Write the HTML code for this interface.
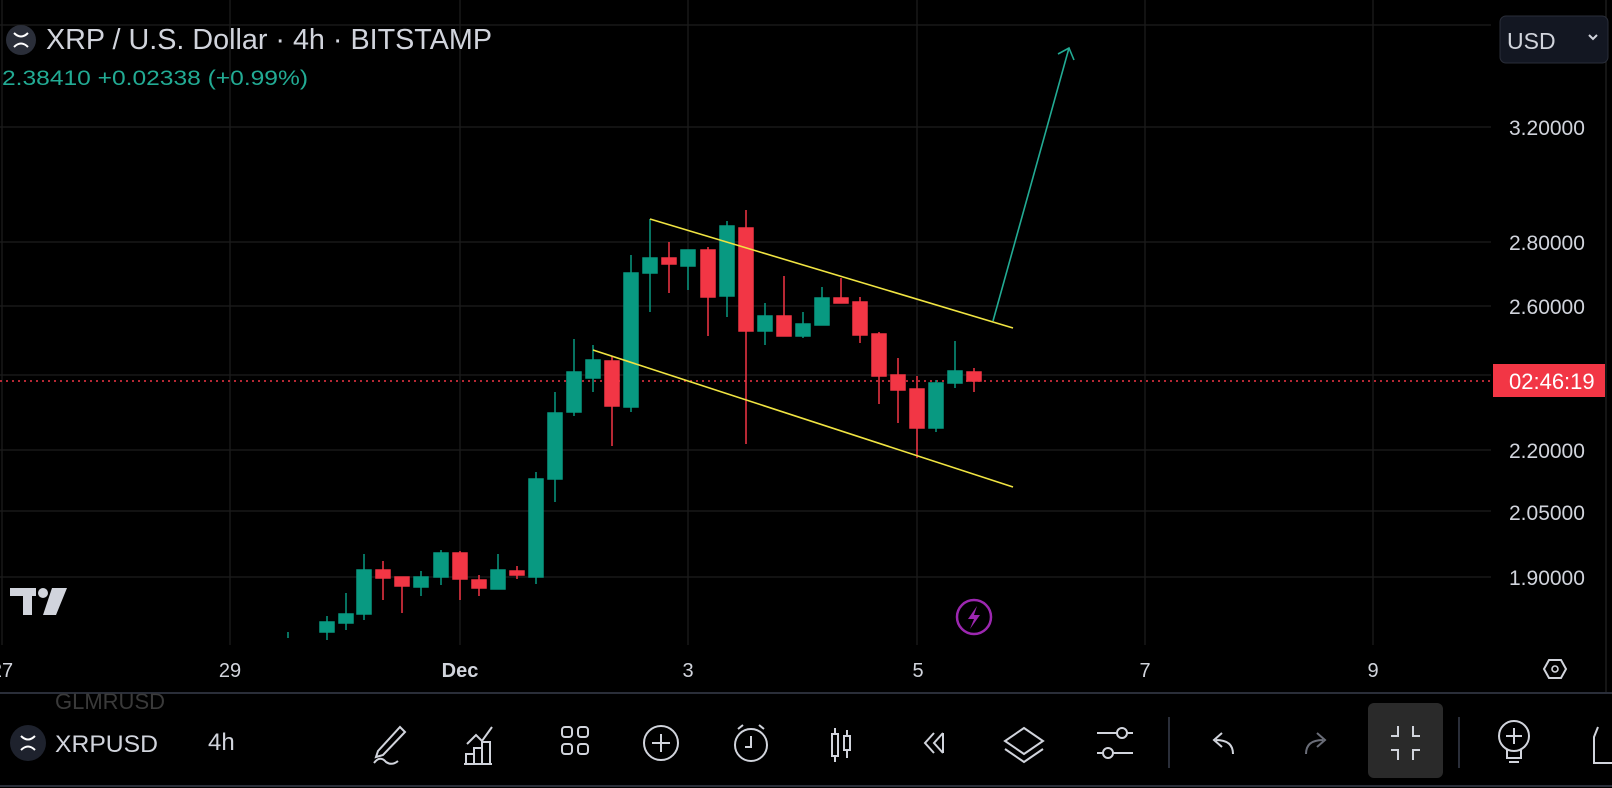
<!DOCTYPE html>
<html><head><meta charset="utf-8"><style>
html,body{margin:0;padding:0;background:#000;}
body{width:1612px;height:788px;overflow:hidden;position:relative;font-family:"Liberation Sans",sans-serif;}
svg{position:absolute;left:0;top:0;}
</style></head><body>
<svg width="1612" height="788" viewBox="0 0 1612 788">
<rect width="1612" height="788" fill="#000"/>
<!-- grid -->
<g stroke="#1c1c1c" stroke-width="1.3">
<line x1="0" y1="25" x2="1491" y2="25"/>
<line x1="0" y1="127" x2="1491" y2="127"/>
<line x1="0" y1="242" x2="1491" y2="242"/>
<line x1="0" y1="306" x2="1491" y2="306"/>
<line x1="0" y1="375" x2="1491" y2="375"/>
<line x1="0" y1="450" x2="1491" y2="450"/>
<line x1="0" y1="511" x2="1491" y2="511"/>
<line x1="0" y1="577" x2="1491" y2="577"/>
<line x1="2" y1="0" x2="2" y2="645"/>
<line x1="230" y1="0" x2="230" y2="645"/>
<line x1="460" y1="0" x2="460" y2="645"/>
<line x1="688" y1="0" x2="688" y2="645"/>
<line x1="917" y1="0" x2="917" y2="645"/>
<line x1="1145" y1="0" x2="1145" y2="645"/>
<line x1="1373" y1="0" x2="1373" y2="645"/>
</g>
<line x1="1606" y1="0" x2="1606" y2="693" stroke="#2a2a2a" stroke-width="1"/>
<!-- current price line -->
<line x1="0" y1="381" x2="1493" y2="381" stroke="#f23645" stroke-width="1.5" stroke-dasharray="2,4"/>
<!-- candles -->
<g id="c"></g>
<g stroke-width="1.5">
<!-- green -->
<g fill="#089981" stroke="#089981">
<line x1="288" y1="632" x2="288" y2="638"/>
<line x1="327" y1="616" x2="327" y2="640"/><rect x="320" y="622" width="14" height="10"/>
<line x1="346" y1="593" x2="346" y2="630"/><rect x="339" y="614" width="14" height="9"/>
<line x1="364" y1="554" x2="364" y2="620"/><rect x="357" y="570" width="14" height="44"/>
<line x1="421" y1="571" x2="421" y2="596"/><rect x="414" y="577" width="14" height="10"/>
<line x1="441" y1="550" x2="441" y2="585"/><rect x="434" y="553" width="14" height="24"/>
<line x1="498" y1="554" x2="498" y2="589"/><rect x="491" y="570" width="14" height="19"/>
<line x1="536" y1="472" x2="536" y2="584"/><rect x="529" y="479" width="14" height="98"/>
<line x1="555" y1="392" x2="555" y2="502"/><rect x="548" y="413" width="14" height="66"/>
<line x1="574" y1="339" x2="574" y2="416"/><rect x="567" y="372" width="14" height="40"/>
<line x1="593" y1="345" x2="593" y2="392"/><rect x="586" y="360" width="14" height="18"/>
<line x1="631" y1="255" x2="631" y2="412"/><rect x="624" y="273" width="14" height="134"/>
<line x1="650" y1="219" x2="650" y2="312"/><rect x="643" y="258" width="14" height="15"/>
<line x1="688" y1="250" x2="688" y2="290"/><rect x="681" y="250" width="14" height="16"/>
<line x1="727" y1="221" x2="727" y2="317"/><rect x="720" y="226" width="14" height="70"/>
<line x1="765" y1="303" x2="765" y2="345"/><rect x="758" y="316" width="14" height="15"/>
<line x1="803" y1="312" x2="803" y2="338"/><rect x="796" y="324" width="14" height="12"/>
<line x1="822" y1="287" x2="822" y2="325"/><rect x="815" y="298" width="14" height="27"/>
<line x1="936" y1="380" x2="936" y2="432"/><rect x="929" y="383" width="14" height="45"/>
<line x1="955" y1="341" x2="955" y2="388"/><rect x="948" y="371" width="14" height="12"/>
</g>
<g fill="#f23645" stroke="#f23645">
<line x1="383" y1="561" x2="383" y2="600"/><rect x="376" y="570" width="14" height="8"/>
<line x1="402" y1="577" x2="402" y2="613"/><rect x="395" y="577" width="14" height="9"/>
<line x1="460" y1="551" x2="460" y2="600"/><rect x="453" y="553" width="14" height="26"/>
<line x1="479" y1="575" x2="479" y2="596"/><rect x="472" y="580" width="14" height="8"/>
<line x1="517" y1="566" x2="517" y2="579"/><rect x="510" y="571" width="14" height="4"/>
<line x1="612" y1="356" x2="612" y2="446"/><rect x="605" y="361" width="14" height="45"/>
<line x1="669" y1="242" x2="669" y2="293"/><rect x="662" y="258" width="14" height="6"/>
<line x1="708" y1="247" x2="708" y2="336"/><rect x="701" y="250" width="14" height="47"/>
<line x1="746" y1="210" x2="746" y2="444"/><rect x="739" y="228" width="14" height="103"/>
<line x1="784" y1="276" x2="784" y2="336"/><rect x="777" y="316" width="14" height="20"/>
<line x1="841" y1="278" x2="841" y2="303"/><rect x="834" y="298" width="14" height="5"/>
<line x1="860" y1="297" x2="860" y2="343"/><rect x="853" y="302" width="14" height="33"/>
<line x1="879" y1="332" x2="879" y2="404"/><rect x="872" y="334" width="14" height="42"/>
<line x1="898" y1="358" x2="898" y2="423"/><rect x="891" y="375" width="14" height="15"/>
<line x1="917" y1="376" x2="917" y2="458"/><rect x="910" y="389" width="14" height="39"/>
<line x1="974" y1="368" x2="974" y2="392"/><rect x="967" y="372" width="14" height="9"/>
</g>
</g>
<!-- trend lines -->
<line x1="650" y1="219" x2="1013" y2="328" stroke="#f0e442" stroke-width="1.6"/>
<line x1="593" y1="350" x2="1013" y2="487" stroke="#f0e442" stroke-width="1.6"/>
<line x1="993" y1="321" x2="1069" y2="48" stroke="#22ab94" stroke-width="1.6"/>
<polyline points="1058,54 1069,48 1074,60" fill="none" stroke="#22ab94" stroke-width="1.6"/>
<!-- header -->
<circle cx="21" cy="40" r="15" fill="#2a2e39"/>
<path d="M14 33 Q21 40 28 33 M14 47 Q21 40 28 47" stroke="#fff" stroke-width="2" fill="none"/>
<text x="46" y="49" font-size="28.5" fill="#d1d4dc" textLength="446" lengthAdjust="spacingAndGlyphs">XRP / U.S. Dollar · 4h · BITSTAMP</text>
<text x="2" y="85" font-size="21" fill="#22ab94" textLength="306" lengthAdjust="spacingAndGlyphs">2.38410  +0.02338 (+0.99%)</text>
<!-- USD box -->
<rect x="1500" y="16" width="108" height="47" rx="6" fill="#131722" stroke="#2a2e39"/>
<text x="1507" y="49" font-size="23" fill="#d1d4dc">USD</text>
<path d="M1589 35 l4 4 l4 -4" stroke="#d1d4dc" stroke-width="2" fill="none"/>
<!-- price axis -->
<g font-size="21" fill="#d1d4dc">
<text x="1509" y="135">3.20000</text>
<text x="1509" y="250">2.80000</text>
<text x="1509" y="314">2.60000</text>
<text x="1509" y="458">2.20000</text>
<text x="1509" y="520">2.05000</text>
<text x="1509" y="585">1.90000</text>
</g>
<rect x="1493" y="364" width="112" height="33" fill="#f23645"/>
<text x="1509" y="389" font-size="22" fill="#fff">02:46:19</text>
<!-- TV logo -->
<g fill="#d1d4dc"><rect x="10" y="588" width="26" height="8"/><rect x="23" y="588" width="9" height="27"/><circle cx="43" cy="593" r="5"/><polygon points="52,588 67,588 56,615 43,615"/></g>
<!-- lightning -->
<circle cx="974" cy="617" r="17" fill="none" stroke="#9c27b0" stroke-width="2.5"/>
<path d="M977 606 L968 619 L974 619 L970 629 L980 615 L974 615 Z" fill="#9c27b0"/>
<!-- x axis -->
<g font-size="20" fill="#d1d4dc" text-anchor="middle">
<text x="2" y="677">27</text>
<text x="230" y="677">29</text>
<text x="460" y="677" font-weight="bold">Dec</text>
<text x="688" y="677">3</text>
<text x="918" y="677">5</text>
<text x="1145" y="677">7</text>
<text x="1373" y="677">9</text>
</g>
<polygon points="1549,660 1561,660 1566,669 1561,678 1549,678 1544,669" fill="none" stroke="#d1d4dc" stroke-width="2"/>
<circle cx="1555" cy="669" r="3" fill="none" stroke="#d1d4dc" stroke-width="1.6"/>
<!-- toolbar -->
<rect x="0" y="693" width="1612" height="95" fill="#000"/>
<line x1="0" y1="693" x2="1612" y2="693" stroke="#2a2e39" stroke-width="2"/>
<line x1="0" y1="786" x2="1612" y2="786" stroke="#2a2e39" stroke-width="2"/>
<text x="55" y="709" font-size="22" fill="#3a3a3a">GLMRUSD</text>
<circle cx="28" cy="743" r="18" fill="#1e222d"/>
<path d="M21 736 Q28 743 35 736 M21 750 Q28 743 35 750" stroke="#fff" stroke-width="2" fill="none"/>
<text x="55" y="752" font-size="24" fill="#d1d4dc" textLength="103" lengthAdjust="spacingAndGlyphs">XRPUSD</text>
<text x="208" y="750" font-size="24" fill="#d1d4dc">4h</text>
<rect x="1368" y="703" width="75" height="75" rx="6" fill="#2a2a2a"/>
<g stroke="#d1d4dc" stroke-width="2" fill="none">
<!-- pencil -->
<path d="M378 751 L400 727 L405 732 L383 755 L376 757 Z M374 763 Q380 755 386 762 Q392 766 398 761"/>
<!-- chart -->
<path d="M467 744 L476 735 L482 741 L492 727 M466 764 V754 H474 V764 M474 764 V748 H482 V764 M482 764 V742 H490 V764 M464 764 H492"/>
<!-- grid -->
<rect x="562" y="727" width="10" height="10" rx="3"/><rect x="578" y="727" width="10" height="10" rx="3"/><rect x="562" y="744" width="10" height="10" rx="3"/><rect x="578" y="744" width="10" height="10" rx="3"/>
<!-- plus -->
<circle cx="661" cy="743" r="17"/><path d="M661 734 V752 M652 743 H670"/>
<!-- alarm -->
<circle cx="751" cy="745" r="16"/><path d="M751 736 V747 H745 M738 729 L743 725 M764 729 L759 725"/>
<!-- candles icon -->
<path d="M835 728 V762 M847 730 V758"/><rect x="832" y="734" width="6" height="22" fill="#000"/><rect x="844" y="736" width="6" height="14" fill="#000"/>
<!-- rewind -->
<path d="M934 733 L925 743 L934 753 M943 733 L934 743 L943 753 M943 733 V753"/>
<!-- layers -->
<path d="M1024 728 L1043 741 L1024 754 L1005 741 Z M1005 749 L1024 762 L1043 749"/>
<!-- sliders -->
<path d="M1097 733 H1133 M1097 753 H1133"/><circle cx="1122" cy="733" r="5" fill="#000"/><circle cx="1108" cy="753" r="5" fill="#000"/>
<!-- undo -->
<path d="M1233 754 Q1233 740 1216 740 M1222 733 L1214 740 L1222 747"/>
<!-- fullscreen exit -->
<path d="M1398 726 V736 H1391 M1413 726 V736 H1420 M1398 760 V750 H1391 M1413 760 V750 H1420"/>
<!-- bulb -->
<circle cx="1514" cy="736" r="15"/><path d="M1514 728 V744 M1506 736 H1522 M1507 750 V758 H1521 V750 M1509 762 H1519"/>
<path d="M1598 727 L1594 737 V763 H1612"/>
</g>
<path d="M1306 754 Q1306 740 1323 740 M1317 733 L1325 740 L1317 747" stroke="#6a6d78" stroke-width="2" fill="none"/>
<line x1="1169" y1="717" x2="1169" y2="768" stroke="#2a2e39" stroke-width="2"/>
<line x1="1459" y1="717" x2="1459" y2="768" stroke="#2a2e39" stroke-width="2"/>
</svg>
</body></html>
